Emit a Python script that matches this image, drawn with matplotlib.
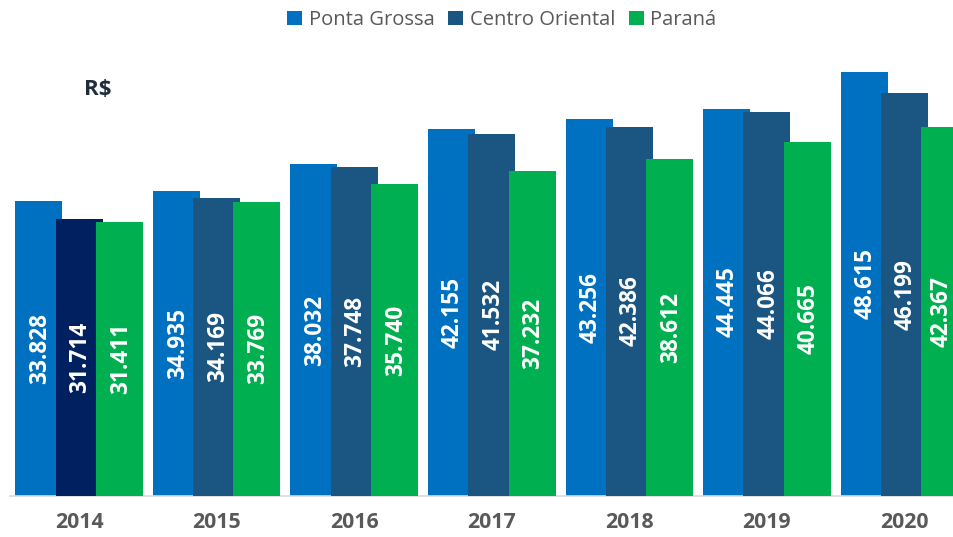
import matplotlib
matplotlib.use("Agg")
import matplotlib.pyplot as plt
import numpy as np

years = ["2014", "2015", "2016", "2017", "2018", "2019", "2020"]
series_names = ["Ponta Grossa", "Centro Oriental", "Paraná"]
ponta_grossa = [33.828, 34.935, 38.032, 42.155, 43.256, 44.445, 48.615]
centro_oriental = [31.714, 34.169, 37.748, 41.532, 42.386, 44.066, 46.199]
parana = [31.411, 33.769, 35.740, 37.232, 38.612, 40.665, 42.367]

colors = ["#0070C0", "#1B5581", "#00B050"]
special_color = "#002060"  # 2014 Centro Oriental bar

plt.rcParams['font.family'] = ['Open Sans', 'DejaVu Sans']

fig = plt.figure(figsize=(9.54, 5.37), dpi=100)
ax = fig.add_axes([10.3 / 954, (537 - 495.5) / 537, 963.0 / 954, 50 * 8.705 / 537])

x = np.arange(len(years))
width = 0.3416
offset = 0.293
data = [ponta_grossa, centro_oriental, parana]

for i, (vals, name, col) in enumerate(zip(data, series_names, colors)):
    pos = x + (i - 1) * offset
    cols = [col] * len(vals)
    if i == 1:
        cols[0] = special_color
    ax.bar(pos, vals, width=width, color=cols, label=name, zorder=2 + i, linewidth=0)
    for xp, v in zip(pos, vals):
        # keep the label inside the visible figure for the bar cut by the right edge
        dx = -0.02 if xp + width / 2 > 6.4 else 0.01
        ax.text(xp + dx, v / 2, f"{v:.3f}", rotation=90, ha='center', va='center',
                color='white', fontsize=16.3, fontweight='bold', zorder=10)

ax.set_xlim(-0.5, 6.5)
ax.set_ylim(0, 50)
ax.set_yticks([])
ax.set_xticks(x)
ax.set_xticklabels(years, fontsize=15.3, fontweight='bold', color='#595959')
ax.tick_params(axis='x', length=0, pad=12)
for s in ['top', 'right', 'left']:
    ax.spines[s].set_visible(False)
ax.spines['bottom'].set_color('#D9D9D9')
ax.spines['bottom'].set_linewidth(1.2)
ax.set_facecolor('none')

fig.text(84 / 954, 1 - 90 / 537, "R$", fontsize=16, fontweight='bold', color='#1F2D3D',
         ha='left', va='center')

handles, labels = ax.get_legend_handles_labels()
leg = fig.legend(handles, labels, loc='center', bbox_to_anchor=(0.526, 1 - 20 / 537),
                 ncol=3, frameon=False, fontsize=14.5, handlelength=0.75, handleheight=0.75,
                 handletextpad=0.3, columnspacing=0.7)
for t in leg.get_texts():
    t.set_color('#595959')
for p, c in zip(leg.get_patches(), colors):
    p.set_facecolor(c)

fig.savefig("out.png", dpi=100)
